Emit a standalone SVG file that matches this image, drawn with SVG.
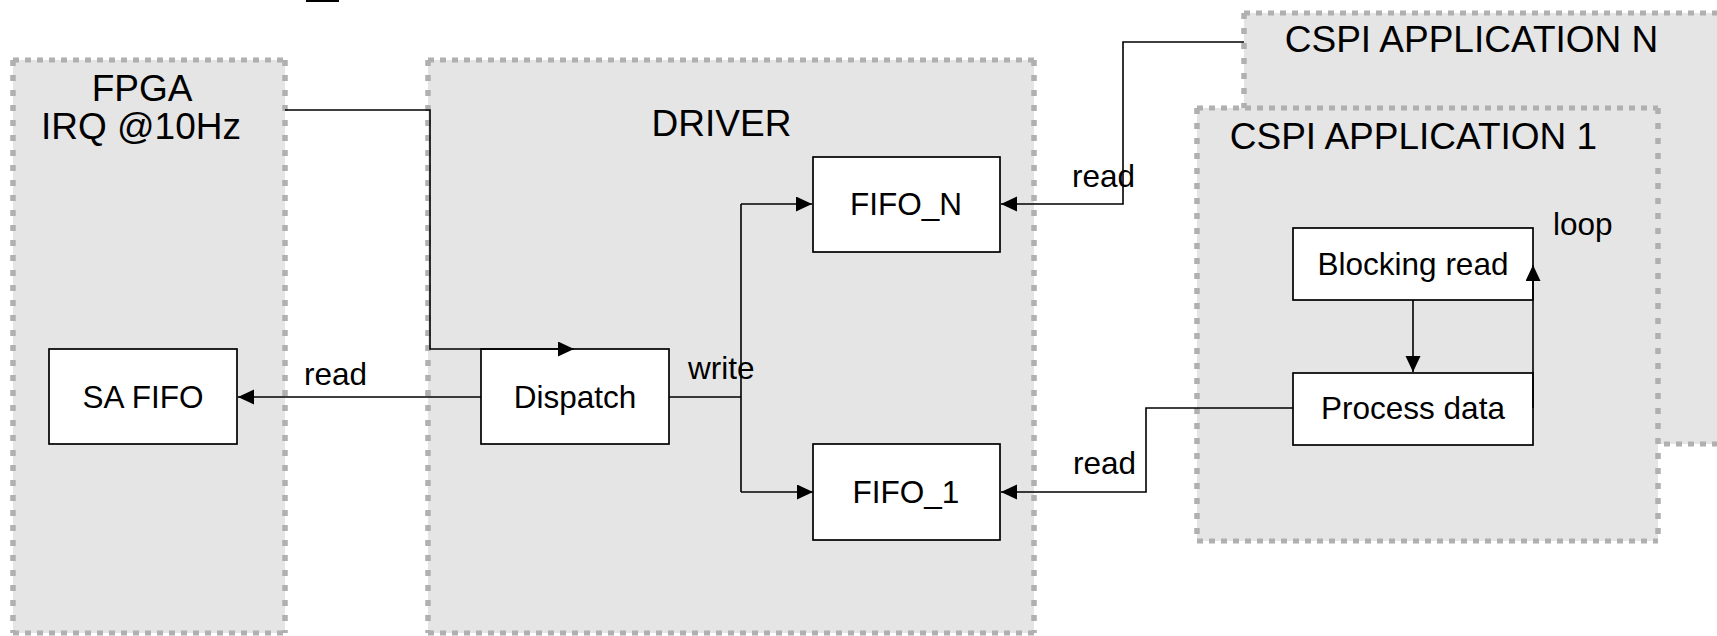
<svg xmlns="http://www.w3.org/2000/svg" width="1717" height="636" viewBox="0 0 1717 636">
  <defs>
    <style>
      .area { fill: #e5e5e5; stroke: none; }
      .hz { fill: none; stroke: #b0b0b0; stroke-width: 5; stroke-dasharray: 6 6; }
      .vt { fill: none; stroke: #b0b0b0; stroke-width: 5.5; stroke-dasharray: 6 9; }
      .box { fill: #ffffff; stroke: #000000; stroke-width: 1.7; }
      .wire { fill: none; stroke: #000000; stroke-width: 1.6; }
      .arrow { marker-end: url(#head); }
      text { font-family: "Liberation Sans", Arial, sans-serif; fill: #000000; }
      .title { font-size: 37px; text-anchor: middle; }
      .name { font-size: 31.5px; text-anchor: middle; }
      .label { font-size: 31.5px; }
    </style>
    <marker id="head" markerUnits="userSpaceOnUse" markerWidth="17" markerHeight="16" refX="16" refY="7.5" orient="auto">
      <path d="M0,0 L16,7.5 L0,15 z" fill="#000000"/>
    </marker>
  </defs>

  <rect x="0" y="0" width="1717" height="636" fill="#ffffff"/>
  <rect x="306" y="0" width="33" height="2" fill="#000000"/>

  <!-- FPGA area -->
  <g id="fpga">
    <rect class="area" x="13" y="60" width="272" height="573"/>
    <path class="hz" d="M13,60 H285 M13,633 H285"/>
    <path class="vt" d="M13,60 V633 M285,60 V633"/>
    <text class="title" x="142" y="101">FPGA</text>
    <text class="title" x="141" y="139">IRQ @10Hz</text>
  </g>

  <!-- Driver area -->
  <g id="driver">
    <rect class="area" x="428" y="60" width="606" height="573"/>
    <path class="hz" d="M428,60 H1034 M428,633 H1034"/>
    <path class="vt" d="M428,60 V633 M1034,60 V633"/>
    <text class="title" x="721.5" y="136">DRIVER</text>
  </g>

  <!-- Application N (behind application 1) -->
  <g id="cspi-app-n">
    <rect class="area" x="1244" y="13" width="490" height="431"/>
    <path class="hz" d="M1244,13 H1734 M1244,444 H1734"/>
    <path class="vt" d="M1244,13 V444"/>
    <text class="title" x="1471.5" y="52">CSPI APPLICATION N</text>
  </g>

  <!-- Application 1 -->
  <g id="cspi-app-1">
    <rect class="area" x="1197" y="108" width="461" height="433"/>
    <path class="hz" d="M1197,108 H1658 M1197,541 H1658"/>
    <path class="vt" d="M1197,108 V541 M1658,108 V541"/>
    <text class="title" x="1413.5" y="149">CSPI APPLICATION 1</text>
  </g>

  <g id="sa-fifo">
    <rect class="box" x="49" y="349" width="188" height="95"/>
    <text class="name" x="143" y="408">SA FIFO</text>
  </g>

  <g id="dispatch">
    <rect class="box" x="481" y="349" width="188" height="95"/>
    <text class="name" x="575" y="408">Dispatch</text>
  </g>

  <g id="fifo-n">
    <rect class="box" x="813" y="157" width="187" height="95"/>
    <text class="name" x="906" y="215">FIFO_N</text>
  </g>

  <g id="fifo-1">
    <rect class="box" x="813" y="444" width="187" height="96"/>
    <text class="name" x="906" y="503">FIFO_1</text>
  </g>

  <g id="blocking-read">
    <rect class="box" x="1293" y="228" width="240" height="72"/>
    <text class="name" x="1413" y="275">Blocking read</text>
  </g>

  <g id="process-data">
    <rect class="box" x="1293" y="373" width="240" height="72"/>
    <text class="name" x="1413" y="419">Process data</text>
  </g>

  <!-- Connectors -->
  <g id="connectors">
    <path class="wire arrow" d="M285,110 H430 V349 H574"/>
    <path class="wire arrow" d="M481,397 H238"/>
    <path class="wire" d="M669,397 H741 M741,204 V492"/>
    <path class="wire arrow" d="M741,204 H812"/>
    <path class="wire arrow" d="M741,492 H813"/>
    <path class="wire arrow" d="M1244,42 H1123 V204 H1001"/>
    <path class="wire arrow" d="M1293,408 H1146 V492 H1001"/>
    <path class="wire arrow" d="M1413,300 V372"/>
    <path class="wire arrow" d="M1533,408 V265"/>

    <text class="label" x="304" y="385">read</text>
    <text class="label" x="688" y="379">write</text>
    <text class="label" x="1072" y="187">read</text>
    <text class="label" x="1073" y="474">read</text>
    <text class="label" x="1553" y="235">loop</text>
  </g>
</svg>
